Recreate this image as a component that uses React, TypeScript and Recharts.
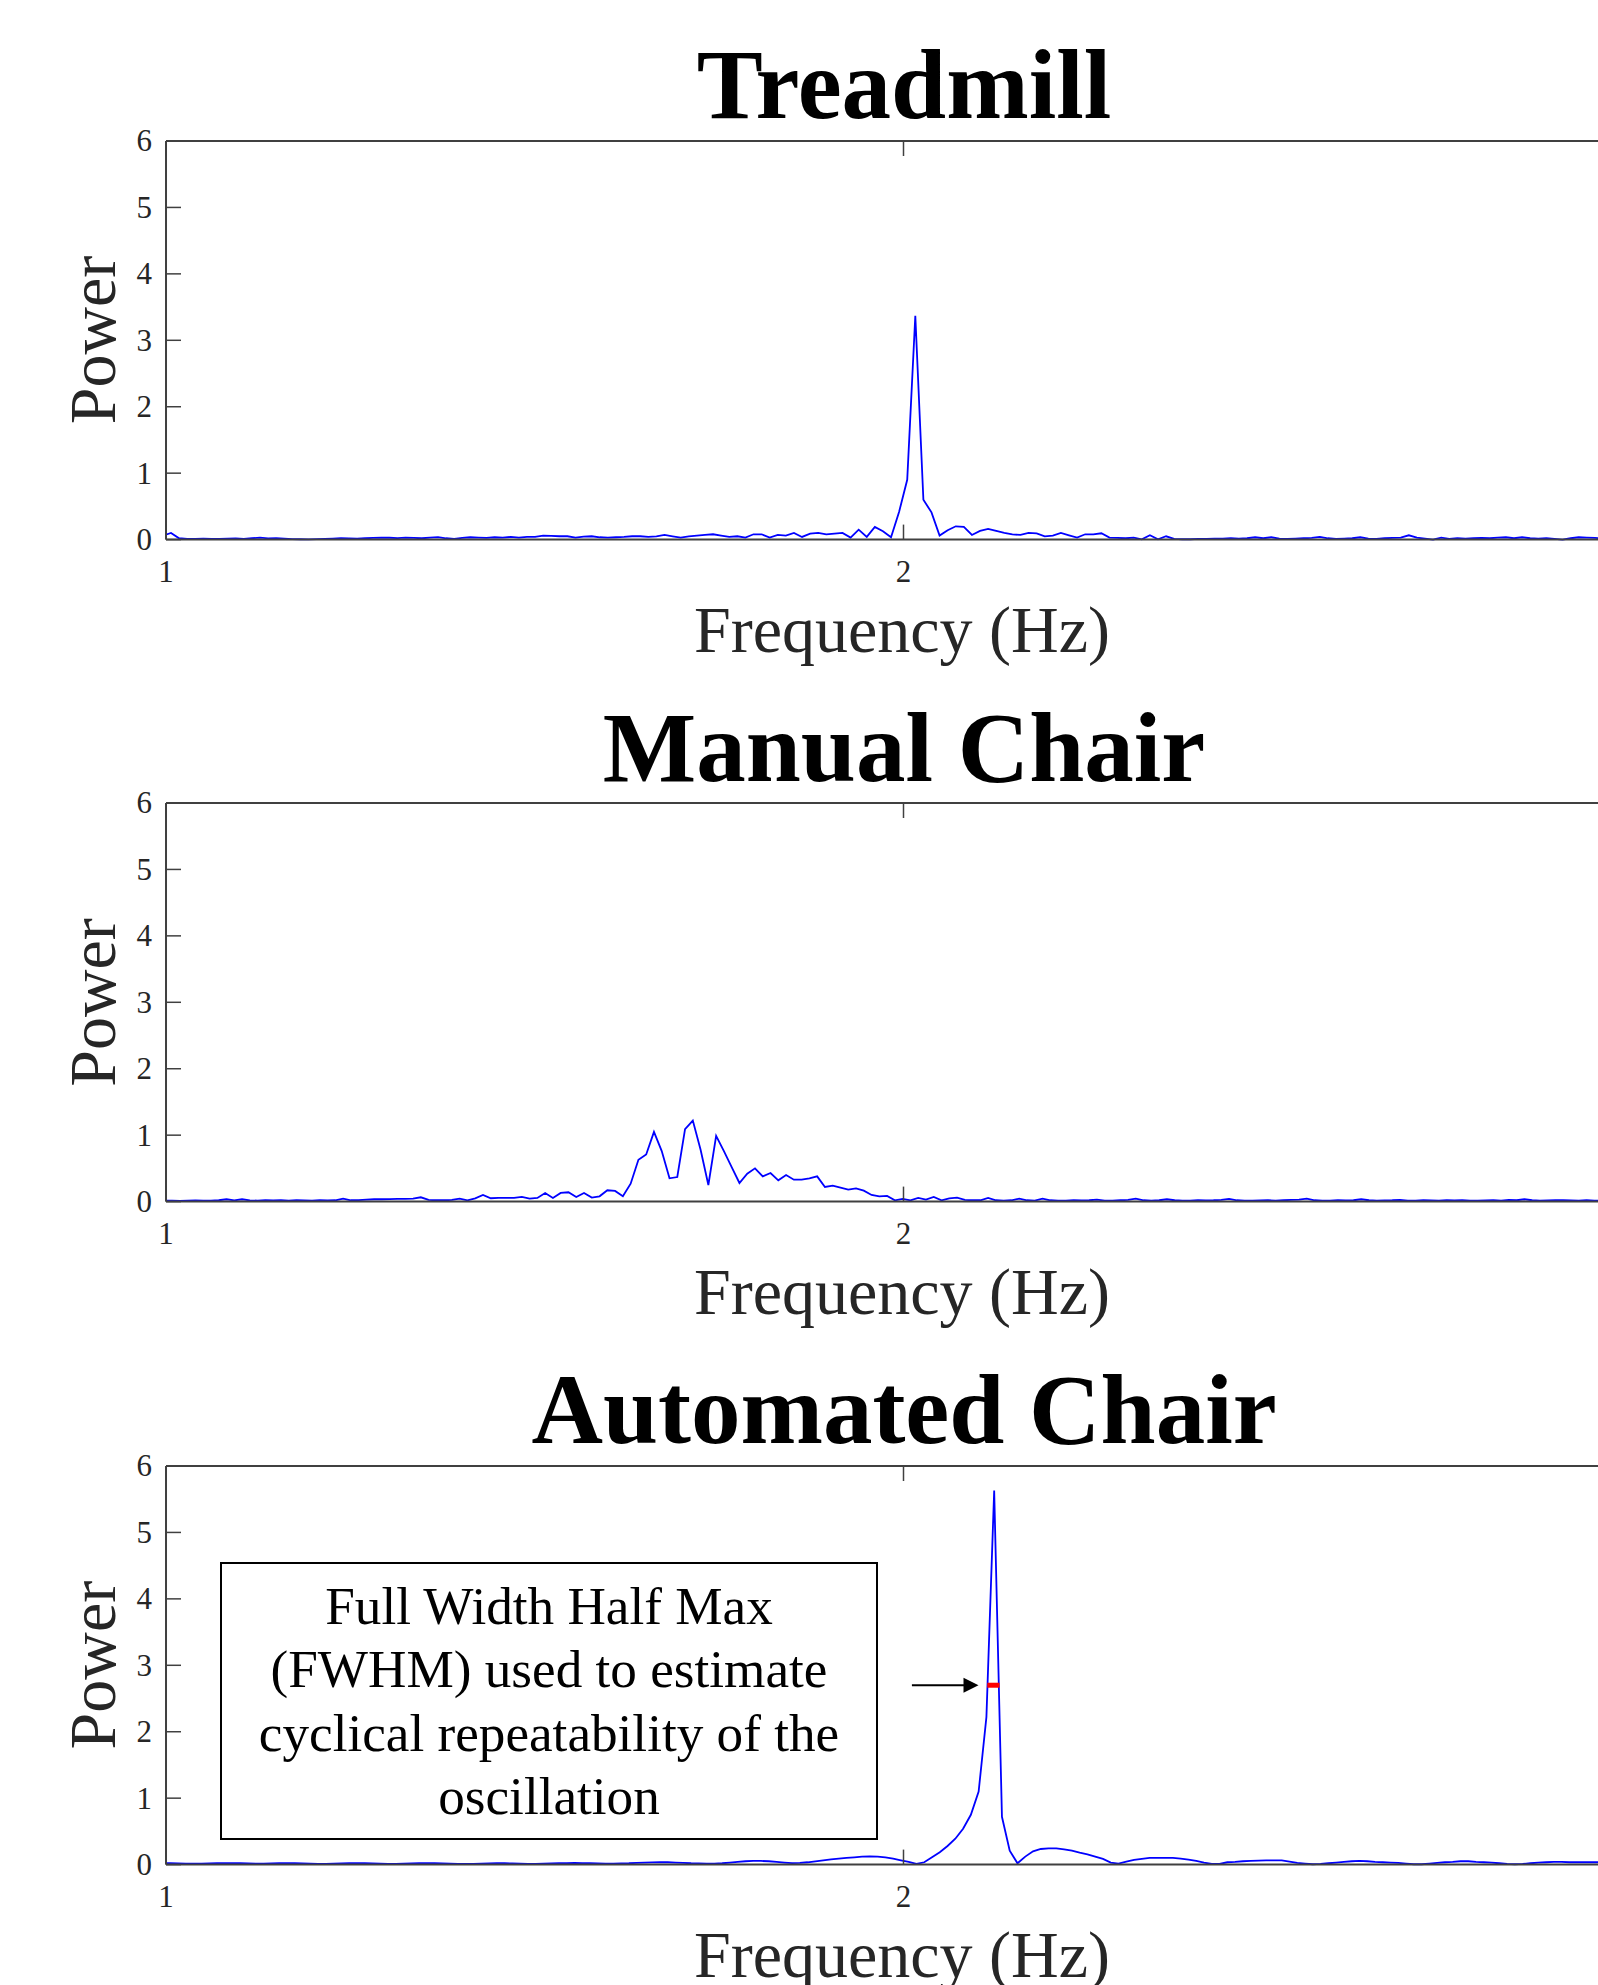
import { LineChart, Line, XAxis, YAxis, ReferenceLine } from 'recharts';

const SERIF = '"Liberation Serif", "Times New Roman", Times, serif';
const INK = '#262626';
const AXIS = '#404040';

// each recording: first frequency bin and bin width (Hz), then power per bin
const treadmillStart = 0.9958;
const treadmillStep = 0.01097;
const treadmillPower = [
  0.06, 0.1, 0.02, 0.01, 0.012, 0.015, 0.012, 0.01, 0.015, 0.018,
  0.012, 0.02, 0.03, 0.018, 0.022, 0.015, 0.008, 0.005, 0.004, 0.006,
  0.01, 0.015, 0.02, 0.018, 0.015, 0.02, 0.025, 0.03, 0.028, 0.022,
  0.03, 0.025, 0.02, 0.03, 0.038, 0.02, 0.012, 0.025, 0.035, 0.03,
  0.025, 0.035, 0.03, 0.04, 0.03, 0.04, 0.04, 0.06, 0.055, 0.05,
  0.05, 0.03, 0.045, 0.05, 0.035, 0.03, 0.035, 0.04, 0.05, 0.05,
  0.04, 0.05, 0.07, 0.05, 0.03, 0.05, 0.06, 0.07, 0.08, 0.06,
  0.04, 0.05, 0.03, 0.08, 0.08, 0.03, 0.07, 0.06, 0.1, 0.04,
  0.09, 0.1, 0.08, 0.09, 0.1, 0.03, 0.15, 0.04, 0.19, 0.125,
  0.035, 0.42, 0.9, 3.37, 0.6, 0.41, 0.06, 0.14, 0.2, 0.19,
  0.07, 0.13, 0.16, 0.13, 0.1, 0.08, 0.07, 0.1, 0.095, 0.05,
  0.06, 0.1, 0.065, 0.03, 0.08, 0.08, 0.095, 0.03, 0.025, 0.02,
  0.03, 0.005, 0.065, 0.005, 0.05, 0.01, 0.005, 0.005, 0.01, 0.012,
  0.015, 0.015, 0.02, 0.015, 0.02, 0.035, 0.02, 0.035, 0.015, 0.01,
  0.015, 0.02, 0.025, 0.04, 0.02, 0.01, 0.015, 0.02, 0.035, 0.015,
  0.01, 0.02, 0.025, 0.03, 0.065, 0.03, 0.015, 0.0, 0.03, 0.01,
  0.02, 0.015, 0.02, 0.025, 0.02, 0.03, 0.035, 0.02, 0.035, 0.02,
  0.015, 0.02, 0.01, 0.0, 0.02, 0.035, 0.03, 0.025, 0.02, 0.02,
];

const manualStart = 0.99775;
const manualStep = 0.010538;
const manualPower = [
  0.015, 0.015, 0.012, 0.015, 0.018, 0.015, 0.015, 0.02, 0.035, 0.018,
  0.035, 0.018, 0.015, 0.02, 0.018, 0.02, 0.015, 0.02, 0.018, 0.015,
  0.02, 0.018, 0.02, 0.045, 0.02, 0.022, 0.03, 0.035, 0.035, 0.038,
  0.04, 0.04, 0.045, 0.065, 0.025, 0.02, 0.02, 0.025, 0.045, 0.02,
  0.05, 0.1, 0.05, 0.055, 0.055, 0.055, 0.07, 0.045, 0.055, 0.13,
  0.055, 0.13, 0.14, 0.07, 0.13, 0.06, 0.08, 0.17, 0.16, 0.08,
  0.27, 0.63, 0.71, 1.05, 0.76, 0.35, 0.37, 1.09, 1.22, 0.78,
  0.25, 0.99, 0.76, 0.52, 0.28, 0.42, 0.5, 0.38, 0.43, 0.32,
  0.4, 0.33, 0.33, 0.35, 0.38, 0.22, 0.24, 0.21, 0.18, 0.2,
  0.165, 0.1, 0.08, 0.085, 0.02, 0.04, 0.02, 0.055, 0.03, 0.07,
  0.02, 0.05, 0.06, 0.025, 0.02, 0.02, 0.055, 0.02, 0.015, 0.02,
  0.045, 0.02, 0.015, 0.045, 0.02, 0.015, 0.015, 0.02, 0.018, 0.02,
  0.03, 0.015, 0.015, 0.02, 0.025, 0.045, 0.02, 0.015, 0.02, 0.035,
  0.02, 0.015, 0.015, 0.02, 0.018, 0.02, 0.025, 0.04, 0.02, 0.015,
  0.015, 0.018, 0.02, 0.015, 0.02, 0.025, 0.03, 0.045, 0.02, 0.015,
  0.015, 0.02, 0.018, 0.02, 0.035, 0.02, 0.015, 0.018, 0.02, 0.025,
  0.015, 0.015, 0.02, 0.018, 0.015, 0.02, 0.018, 0.02, 0.015, 0.015,
  0.018, 0.02, 0.015, 0.025, 0.02, 0.035, 0.02, 0.015, 0.018, 0.02,
  0.02, 0.018, 0.015, 0.02, 0.015, 0.015,
];

const automatedStart = 0.99539;
const automatedStep = 0.010538;
const automatedPower = [
  0.02, 0.02, 0.018, 0.015, 0.015, 0.015, 0.018, 0.02, 0.02, 0.022,
  0.02, 0.018, 0.015, 0.015, 0.018, 0.02, 0.022, 0.02, 0.018, 0.015,
  0.012, 0.012, 0.015, 0.018, 0.02, 0.022, 0.02, 0.018, 0.015, 0.012,
  0.012, 0.015, 0.018, 0.02, 0.022, 0.02, 0.018, 0.015, 0.012, 0.01,
  0.012, 0.015, 0.018, 0.02, 0.02, 0.018, 0.015, 0.012, 0.012, 0.015,
  0.018, 0.02, 0.022, 0.025, 0.022, 0.02, 0.018, 0.015, 0.015, 0.018,
  0.02, 0.025, 0.03, 0.032, 0.035, 0.035, 0.03, 0.025, 0.02, 0.018,
  0.015, 0.015, 0.02, 0.03, 0.04, 0.05, 0.055, 0.055, 0.05, 0.04,
  0.03, 0.022, 0.025, 0.035, 0.05, 0.065, 0.08, 0.09, 0.1, 0.11,
  0.12, 0.125, 0.12, 0.11, 0.09, 0.065, 0.04, 0.01, 0.035, 0.11,
  0.185, 0.28, 0.39, 0.54, 0.75, 1.1, 2.22, 5.63, 0.72, 0.21,
  0.02, 0.12, 0.2, 0.235, 0.245, 0.245, 0.23, 0.21, 0.18, 0.155,
  0.12, 0.085, 0.03, 0.015, 0.045, 0.07, 0.085, 0.1, 0.1, 0.1,
  0.1, 0.09, 0.075, 0.055, 0.03, 0.01, 0.01, 0.035, 0.04, 0.05,
  0.055, 0.06, 0.065, 0.065, 0.065, 0.045, 0.025, 0.015, 0.005, 0.01,
  0.02, 0.03, 0.04, 0.05, 0.055, 0.05, 0.04, 0.035, 0.03, 0.025,
  0.015, 0.005, 0.005, 0.015, 0.025, 0.035, 0.04, 0.05, 0.05, 0.04,
  0.035, 0.03, 0.02, 0.01, 0.005, 0.01, 0.02, 0.03, 0.035, 0.04,
  0.04, 0.035, 0.035, 0.035, 0.035, 0.035,
];

const xTicks = [1, 2, 3];
const xTickLabels = ['1', '2', ''];
const yTicks = [0, 1, 2, 3, 4, 5, 6];

// half-max width of the automated chair peak, and the arrow pointing at it (Hz, power)
const fwhmLine = [{ x: 2.1136, y: 2.7 }, { x: 2.1302, y: 2.7 }];
const fwhmArrow = [{ x: 2.0114, y: 2.7 }, { x: 2.1017, y: 2.7 }];

const noteLines = [
  'Full Width Half Max',
  '(FWHM) used to estimate',
  'cyclical repeatability of the',
  'oscillation',
];

const toSeries = (start: number, step: number, power: number[]) =>
  power.map((p, i) => ({ f: start + i * step, p }));

const panels = [
  { title: 'Treadmill', data: toSeries(treadmillStart, treadmillStep, treadmillPower), top: 140.7, note: false },
  { title: 'Manual Chair', data: toSeries(manualStart, manualStep, manualPower), top: 803.2, note: false },
  { title: 'Automated Chair', data: toSeries(automatedStart, automatedStep, automatedPower), top: 1465.8, note: true },
];

const PLOT_H = 398.6;
const CHART_W = 1700;
const CHART_H = 39 + 1 + PLOT_H + 60;

const BottomTick = (props: any) => {
  const { x, y, payload, index } = props;
  return (
    <g>
      <line x1={x} y1={y} x2={x} y2={y - 15} stroke={AXIS} strokeWidth={1.5} />
      <text x={x} y={y + 42} textAnchor="middle" fontFamily={SERIF} fontSize={31} fill={INK}>
        {xTickLabels[index] ?? payload.value}
      </text>
    </g>
  );
};

const TopTick = (props: any) => {
  const { x, y } = props;
  return <line x1={x} y1={y} x2={x} y2={y + 15} stroke={AXIS} strokeWidth={1.5} />;
};

const LeftTick = (props: any) => {
  const { x, y, payload } = props;
  return (
    <g>
      <line x1={x} y1={y} x2={x + 15} y2={y} stroke={AXIS} strokeWidth={1.5} />
      <text x={x - 14} y={y + 10.5} textAnchor="end" fontFamily={SERIF} fontSize={31} fill={INK}>
        {payload.value}
      </text>
    </g>
  );
};

const ArrowShape = (props: any) => {
  const { x1, y1, x2, y2 } = props;
  return (
    <g>
      <line x1={x1} y1={y1} x2={x2 - 12} y2={y2} stroke="#000" strokeWidth={2.2} />
      <polygon points={`${x2},${y2} ${x2 - 15},${y2 - 7.5} ${x2 - 15},${y2 + 7.5}`} fill="#000" />
    </g>
  );
};

function Panel({ data, note }: { data: { f: number; p: number }[]; note: boolean }) {
  return (
    <LineChart width={CHART_W} height={CHART_H} data={data} margin={{ top: 39, right: 59, bottom: 0, left: 66 }}>
      <XAxis
        xAxisId="top"
        dataKey="f"
        orientation="top"
        type="number"
        domain={[1, 3]}
        ticks={xTicks}
        interval={0}
        allowDataOverflow
        height={1}
        axisLine={{ stroke: AXIS, strokeWidth: 2 }}
        tickLine={false}
        tickSize={0}
        tickMargin={0}
        tick={TopTick}
      />
      <XAxis
        dataKey="f"
        type="number"
        domain={[1, 3]}
        ticks={xTicks}
        interval={0}
        allowDataOverflow
        height={60}
        axisLine={{ stroke: AXIS, strokeWidth: 2 }}
        tickLine={false}
        tickSize={0}
        tickMargin={0}
        tick={BottomTick}
      />
      <YAxis
        type="number"
        domain={[0, 6]}
        ticks={yTicks}
        interval={0}
        width={100}
        axisLine={{ stroke: AXIS, strokeWidth: 2 }}
        tickLine={false}
        tickSize={0}
        tickMargin={0}
        tick={LeftTick}
      />
      <Line
        type="linear"
        dataKey="p"
        stroke="#0000ff"
        strokeWidth={1.8}
        dot={false}
        activeDot={false}
        isAnimationActive={false}
      />
      {note && <ReferenceLine segment={fwhmArrow} shape={ArrowShape} />}
      {note && <ReferenceLine segment={fwhmLine} stroke="#ff0000" strokeWidth={5} />}
    </LineChart>
  );
}

export default function App() {
  return (
    <div
      style={{
        position: 'absolute',
        left: 0,
        top: 0,
        width: 1598,
        height: 1985,
        overflow: 'hidden',
        background: '#fff',
      }}
    >
      {panels.map((p) => (
        <div key={p.title} style={{ position: 'absolute', left: 0, top: p.top - 40 }}>
          <Panel data={p.data} note={p.note} />
        </div>
      ))}
      <svg
        width={1598}
        height={1985}
        style={{ position: 'absolute', left: 0, top: 0, pointerEvents: 'none' }}
        fontFamily={SERIF}
      >
        {panels.map((p) => (
          <g key={p.title}>
            <text x={904} y={p.top - 22.4} textAnchor="middle" fontWeight="bold" fontSize={99} fill="#000">
              {p.title}
            </text>
            <text x={902} y={p.top + PLOT_H + 112.4} textAnchor="middle" fontSize={66} fill={INK}>
              Frequency (Hz)
            </text>
            <text
              transform={`translate(115 ${p.top + PLOT_H / 2}) rotate(-90)`}
              textAnchor="middle"
              fontSize={66}
              fill={INK}
            >
              Power
            </text>
          </g>
        ))}
        <rect x={221} y={1563} width={656} height={276} fill="#fff" stroke="#000" strokeWidth={2} />
        {noteLines.map((line, i) => (
          <text key={line} x={549} y={1623.9 + i * 63.4} textAnchor="middle" fontSize={53.2} fill="#000">
            {line}
          </text>
        ))}
      </svg>
    </div>
  );
}
